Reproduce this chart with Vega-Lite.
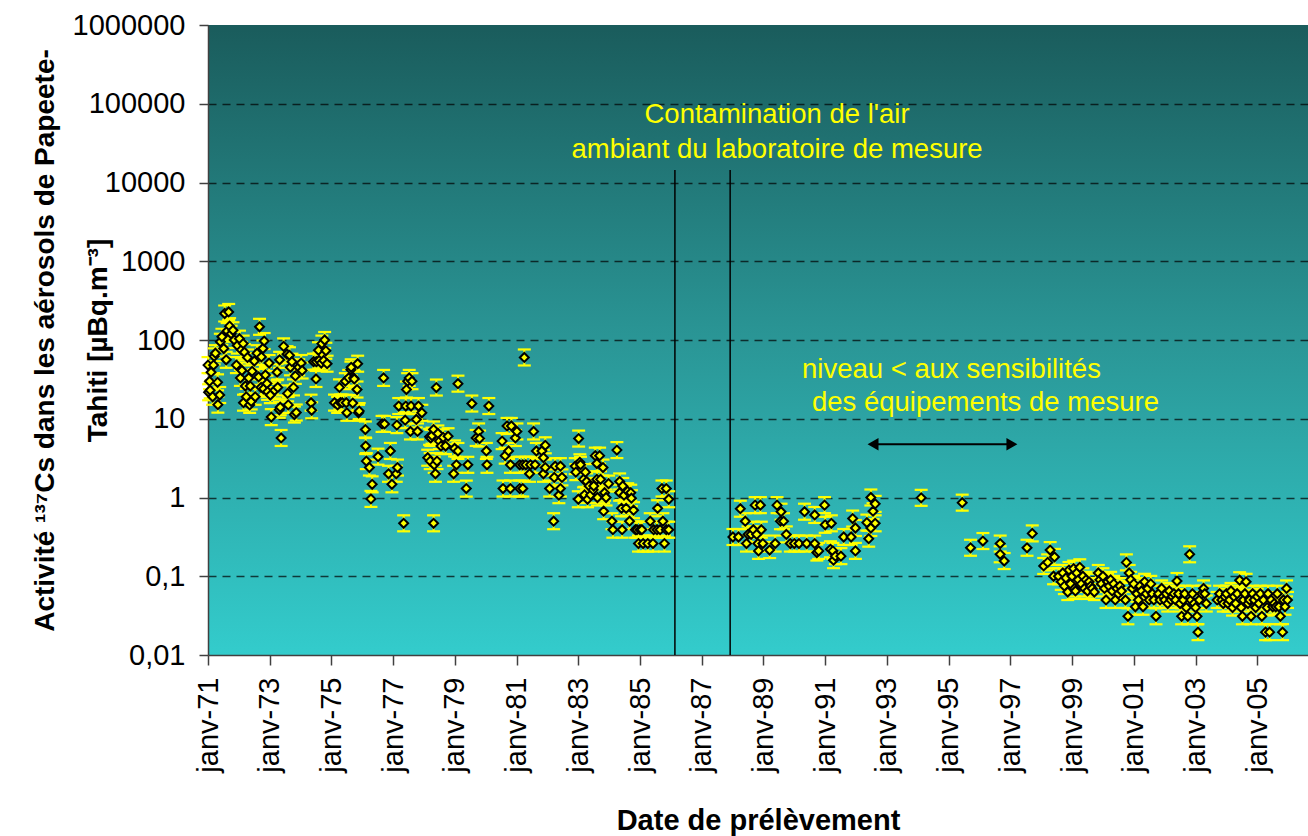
{
  "$schema": "https://vega.github.io/schema/vega-lite/v6.json",
  "width": 1100,
  "height": 630,
  "autosize": "none",
  "padding": {"left": 208, "top": 25, "right": 0, "bottom": 181},
  "background": "white",
  "config": {
    "font": "Liberation Sans",
    "view": {
      "stroke": null,
      "fill": {"gradient": "linear", "x1": 0, "y1": 0, "x2": 0, "y2": 1,
        "stops": [{"offset": 0, "color": "#1A5C5C"}, {"offset": 0.5, "color": "#2A9696"}, {"offset": 1, "color": "#33CCCC"}]}
    }
  },
  "datasets": {
    "mesures": [
      {"annee":1971.00,"activite":48},{"annee":1971.02,"activite":21.7},{"annee":1971.05,"activite":30},{"annee":1971.07,"activite":23},{"annee":1971.10,"activite":39},{"annee":1971.15,"activite":19},{"annee":1971.18,"activite":48},{"annee":1971.20,"activite":62},{"annee":1971.24,"activite":68},{"annee":1971.31,"activite":29},{"annee":1971.32,"activite":15.1},{"annee":1971.38,"activite":20},{"annee":1971.40,"activite":95},{"annee":1971.45,"activite":110},{"annee":1971.51,"activite":78},{"annee":1971.54,"activite":217},{"annee":1971.59,"activite":56},{"annee":1971.62,"activite":130},{"annee":1971.67,"activite":227},{"annee":1971.70,"activite":150},{"annee":1971.75,"activite":120},{"annee":1971.81,"activite":133},{"annee":1971.85,"activite":100},{"annee":1971.92,"activite":48},{"annee":1971.95,"activite":85},
      {"annee":1972.02,"activite":104},{"annee":1972.05,"activite":33},{"annee":1972.08,"activite":75},{"annee":1972.10,"activite":41},{"annee":1972.14,"activite":90},{"annee":1972.15,"activite":16},{"annee":1972.18,"activite":70},{"annee":1972.21,"activite":26},{"annee":1972.24,"activite":19},{"annee":1972.28,"activite":60},{"annee":1972.32,"activite":33},{"annee":1972.35,"activite":15},{"annee":1972.37,"activite":26},{"annee":1972.40,"activite":16.6},{"annee":1972.43,"activite":40},{"annee":1972.50,"activite":54},{"annee":1972.53,"activite":19},{"annee":1972.59,"activite":68},{"annee":1972.64,"activite":34},{"annee":1972.67,"activite":147},{"annee":1972.72,"activite":25},{"annee":1972.73,"activite":61},{"annee":1972.78,"activite":78},{"annee":1972.80,"activite":24},{"annee":1972.82,"activite":97},{"annee":1972.86,"activite":36},{"annee":1972.91,"activite":28},{"annee":1972.93,"activite":22},{"annee":1972.98,"activite":51},
      {"annee":1973.02,"activite":20},{"annee":1973.05,"activite":10.5},{"annee":1973.16,"activite":23},{"annee":1973.24,"activite":39},{"annee":1973.26,"activite":25},{"annee":1973.31,"activite":13},{"annee":1973.32,"activite":56},{"annee":1973.34,"activite":14},{"annee":1973.37,"activite":5.7},{"annee":1973.45,"activite":83},{"annee":1973.56,"activite":66},{"annee":1973.58,"activite":21},{"annee":1973.60,"activite":15},{"annee":1973.64,"activite":64},{"annee":1973.67,"activite":45},{"annee":1973.72,"activite":53},{"annee":1973.77,"activite":25},{"annee":1973.80,"activite":11.3},{"annee":1973.83,"activite":35},{"annee":1973.86,"activite":12},{"annee":1973.94,"activite":45},
      {"annee":1974.02,"activite":51},{"annee":1974.05,"activite":41},{"annee":1974.34,"activite":16},{"annee":1974.36,"activite":12.8},{"annee":1974.42,"activite":53},{"annee":1974.50,"activite":32},{"annee":1974.51,"activite":53},{"annee":1974.58,"activite":74},{"annee":1974.60,"activite":55},{"annee":1974.67,"activite":51},{"annee":1974.69,"activite":90},{"annee":1974.75,"activite":55},{"annee":1974.78,"activite":100},{"annee":1974.82,"activite":73},{"annee":1974.86,"activite":50},
      {"annee":1975.10,"activite":16},{"annee":1975.20,"activite":15},{"annee":1975.26,"activite":25},{"annee":1975.29,"activite":16},{"annee":1975.35,"activite":16},{"annee":1975.45,"activite":30},{"annee":1975.48,"activite":16},{"annee":1975.50,"activite":11.9},{"annee":1975.56,"activite":33},{"annee":1975.63,"activite":42},{"annee":1975.64,"activite":45},{"annee":1975.69,"activite":15.8},{"annee":1975.72,"activite":33},{"annee":1975.74,"activite":32},{"annee":1975.83,"activite":23.5},{"annee":1975.85,"activite":50},{"annee":1975.88,"activite":11.9},{"annee":1975.90,"activite":12.5},
      {"annee":1976.10,"activite":7.3},{"annee":1976.11,"activite":4.5},{"annee":1976.13,"activite":2.9},{"annee":1976.23,"activite":2.4},{"annee":1976.28,"activite":0.96},{"annee":1976.32,"activite":1.47},{"annee":1976.51,"activite":3.3},{"annee":1976.64,"activite":8.6},{"annee":1976.69,"activite":33},{"annee":1976.72,"activite":8.6},{"annee":1976.85,"activite":2.0},{"annee":1976.91,"activite":3.9},{"annee":1976.96,"activite":1.47},
      {"annee":1977.10,"activite":2.0},{"annee":1977.12,"activite":8.3},{"annee":1977.14,"activite":2.4},{"annee":1977.18,"activite":14.5},{"annee":1977.34,"activite":0.47},{"annee":1977.39,"activite":9.6},{"annee":1977.41,"activite":14.5},{"annee":1977.43,"activite":23.5},{"annee":1977.47,"activite":30},{"annee":1977.52,"activite":33},{"annee":1977.56,"activite":6.9},{"annee":1977.58,"activite":14.5},{"annee":1977.61,"activite":30},{"annee":1977.75,"activite":9.8},{"annee":1977.79,"activite":6.9},{"annee":1977.82,"activite":14.5},{"annee":1977.93,"activite":11.9},
      {"annee":1978.12,"activite":3.2},{"annee":1978.18,"activite":5.9},{"annee":1978.20,"activite":2.9},{"annee":1978.22,"activite":5.7},{"annee":1978.26,"activite":6.1},{"annee":1978.31,"activite":7.3},{"annee":1978.31,"activite":0.47},{"annee":1978.33,"activite":2.6},{"annee":1978.37,"activite":2.0},{"annee":1978.40,"activite":24.9},{"annee":1978.42,"activite":2.9},{"annee":1978.45,"activite":6.5},{"annee":1978.50,"activite":5.2},{"annee":1978.55,"activite":4.5},{"annee":1978.62,"activite":5.8},{"annee":1978.70,"activite":4.5},{"annee":1978.78,"activite":6.0},{"annee":1978.96,"activite":2.0},{"annee":1978.99,"activite":4.2},
      {"annee":1979.05,"activite":2.6},{"annee":1979.10,"activite":3.9},{"annee":1979.10,"activite":27.9},{"annee":1979.37,"activite":1.3},{"annee":1979.42,"activite":2.6},{"annee":1979.55,"activite":15.6},{"annee":1979.69,"activite":5.7},{"annee":1979.77,"activite":6.9},{"annee":1979.80,"activite":5.6},
      {"annee":1980.02,"activite":3.9},{"annee":1980.04,"activite":2.6},{"annee":1980.10,"activite":14.5},{"annee":1980.53,"activite":5.2},{"annee":1980.56,"activite":1.3},{"annee":1980.63,"activite":3.4},{"annee":1980.69,"activite":8.1},{"annee":1980.74,"activite":3.9},{"annee":1980.80,"activite":2.6},{"annee":1980.80,"activite":1.3},{"annee":1980.83,"activite":8.1},{"annee":1980.96,"activite":5.7},
      {"annee":1981.01,"activite":6.9},{"annee":1981.10,"activite":1.3},{"annee":1981.10,"activite":2.6},{"annee":1981.20,"activite":1.3},{"annee":1981.20,"activite":2.6},{"annee":1981.25,"activite":60},{"annee":1981.30,"activite":2.6},{"annee":1981.42,"activite":2.0},{"annee":1981.45,"activite":2.6},{"annee":1981.55,"activite":6.9},{"annee":1981.60,"activite":2.6},{"annee":1981.64,"activite":3.9},{"annee":1981.82,"activite":3.9},{"annee":1981.87,"activite":3.2},{"annee":1981.87,"activite":2.0},{"annee":1981.93,"activite":4.6},{"annee":1981.93,"activite":2.4},
      {"annee":1982.07,"activite":1.3},{"annee":1982.20,"activite":0.5},{"annee":1982.22,"activite":1.8},{"annee":1982.25,"activite":2.5},{"annee":1982.37,"activite":1.07},{"annee":1982.42,"activite":2.5},{"annee":1982.42,"activite":1.3},{"annee":1982.47,"activite":1.8},{"annee":1982.90,"activite":2.5},{"annee":1982.92,"activite":2.1},
      {"annee":1983.00,"activite":0.95},{"annee":1983.01,"activite":5.6},{"annee":1983.05,"activite":2.8},{"annee":1983.07,"activite":2.6},{"annee":1983.17,"activite":1.7},{"annee":1983.20,"activite":1.08},{"annee":1983.23,"activite":2.1},{"annee":1983.27,"activite":1.6},{"annee":1983.30,"activite":0.95},{"annee":1983.35,"activite":1.4},{"annee":1983.40,"activite":1.08},{"annee":1983.48,"activite":1.25},{"annee":1983.50,"activite":1.4},{"annee":1983.55,"activite":3.4},{"annee":1983.60,"activite":2.7},{"annee":1983.60,"activite":1.7},{"annee":1983.62,"activite":1.0},{"annee":1983.69,"activite":3.4},{"annee":1983.72,"activite":1.7},{"annee":1983.80,"activite":2.4},{"annee":1983.82,"activite":0.67},{"annee":1983.85,"activite":1.15},{"annee":1983.90,"activite":1.0},{"annee":1983.98,"activite":1.5},
      {"annee":1984.09,"activite":0.5},{"annee":1984.12,"activite":0.39},{"annee":1984.25,"activite":4.0},{"annee":1984.34,"activite":1.6},{"annee":1984.34,"activite":1.15},{"annee":1984.40,"activite":0.73},{"annee":1984.42,"activite":0.39},{"annee":1984.44,"activite":1.4},{"annee":1984.48,"activite":1.07},{"annee":1984.55,"activite":0.73},{"annee":1984.60,"activite":1.2},{"annee":1984.66,"activite":0.5},{"annee":1984.70,"activite":1.15},{"annee":1984.72,"activite":0.98},{"annee":1984.79,"activite":0.69},{"annee":1984.85,"activite":0.39},{"annee":1984.90,"activite":0.39},{"annee":1984.95,"activite":0.26},
      {"annee":1985.00,"activite":0.39},{"annee":1985.06,"activite":0.39},{"annee":1985.10,"activite":0.26},{"annee":1985.25,"activite":0.26},{"annee":1985.33,"activite":0.5},{"annee":1985.42,"activite":0.26},{"annee":1985.44,"activite":0.39},{"annee":1985.55,"activite":0.39},{"annee":1985.57,"activite":0.73},{"annee":1985.65,"activite":0.39},{"annee":1985.71,"activite":1.3},{"annee":1985.74,"activite":0.5},{"annee":1985.79,"activite":0.26},{"annee":1985.85,"activite":1.3},{"annee":1985.85,"activite":0.39},{"annee":1985.93,"activite":0.39},{"annee":1985.93,"activite":0.95},
      {"annee":1988.01,"activite":0.315},{"annee":1988.19,"activite":0.315},{"annee":1988.25,"activite":0.72},{"annee":1988.41,"activite":0.5},{"annee":1988.45,"activite":0.26},{"annee":1988.50,"activite":0.34},{"annee":1988.60,"activite":0.34},{"annee":1988.67,"activite":0.39},{"annee":1988.73,"activite":0.8},{"annee":1988.78,"activite":0.34},{"annee":1988.82,"activite":0.26},{"annee":1988.84,"activite":0.21},{"annee":1988.90,"activite":0.8},{"annee":1988.93,"activite":0.39},{"annee":1988.98,"activite":0.26},
      {"annee":1989.20,"activite":0.215},{"annee":1989.38,"activite":0.26},{"annee":1989.44,"activite":0.8},{"annee":1989.55,"activite":0.5},{"annee":1989.57,"activite":0.66},{"annee":1989.65,"activite":0.5},{"annee":1989.74,"activite":0.34},{"annee":1989.87,"activite":0.26},
      {"annee":1990.00,"activite":0.26},{"annee":1990.15,"activite":0.26},{"annee":1990.33,"activite":0.66},{"annee":1990.40,"activite":0.26},{"annee":1990.66,"activite":0.6},{"annee":1990.66,"activite":0.26},{"annee":1990.73,"activite":0.2},{"annee":1990.79,"activite":0.21},{"annee":1990.98,"activite":0.8},
      {"annee":1991.00,"activite":0.45},{"annee":1991.17,"activite":0.22},{"annee":1991.20,"activite":0.47},{"annee":1991.25,"activite":0.21},{"annee":1991.27,"activite":0.16},{"annee":1991.33,"activite":0.18},{"annee":1991.51,"activite":0.18},{"annee":1991.60,"activite":0.315},{"annee":1991.84,"activite":0.315},{"annee":1991.89,"activite":0.54},{"annee":1991.98,"activite":0.41},{"annee":1991.98,"activite":0.21},
      {"annee":1992.35,"activite":0.48},{"annee":1992.41,"activite":0.30},{"annee":1992.48,"activite":0.41},{"annee":1992.48,"activite":1.0},{"annee":1992.55,"activite":0.67},{"annee":1992.62,"activite":0.83},{"annee":1992.62,"activite":0.47},
      {"annee":1994.11,"activite":0.99},{"annee":1995.44,"activite":0.86},{"annee":1995.71,"activite":0.23},{"annee":1996.11,"activite":0.28},{"annee":1996.67,"activite":0.26},{"annee":1996.67,"activite":0.19},{"annee":1996.80,"activite":0.156},{"annee":1997.54,"activite":0.23},{"annee":1997.71,"activite":0.35},
      {"annee":1998.08,"activite":0.135},{"annee":1998.21,"activite":0.15},{"annee":1998.29,"activite":0.215},{"annee":1998.40,"activite":0.1},{"annee":1998.43,"activite":0.176},{"annee":1998.56,"activite":0.1},{"annee":1998.65,"activite":0.085},{"annee":1998.70,"activite":0.11},{"annee":1998.75,"activite":0.075},{"annee":1998.80,"activite":0.095},{"annee":1998.86,"activite":0.063},{"annee":1998.90,"activite":0.12},{"annee":1998.95,"activite":0.08},
      {"annee":1999.00,"activite":0.1},{"annee":1999.05,"activite":0.125},{"annee":1999.08,"activite":0.07},{"annee":1999.11,"activite":0.065},{"annee":1999.15,"activite":0.11},{"annee":1999.20,"activite":0.09},{"annee":1999.25,"activite":0.13},{"annee":1999.30,"activite":0.08},{"annee":1999.35,"activite":0.1},{"annee":1999.40,"activite":0.07},{"annee":1999.45,"activite":0.09},{"annee":1999.50,"activite":0.065},{"annee":1999.55,"activite":0.085},{"annee":1999.60,"activite":0.075},{"annee":1999.65,"activite":0.07},{"annee":1999.72,"activite":0.063},{"annee":1999.85,"activite":0.11},{"annee":1999.90,"activite":0.09},{"annee":1999.95,"activite":0.08},
      {"annee":2000.00,"activite":0.1},{"annee":2000.05,"activite":0.07},{"annee":2000.10,"activite":0.05},{"annee":2000.15,"activite":0.085},{"annee":2000.20,"activite":0.075},{"annee":2000.25,"activite":0.09},{"annee":2000.30,"activite":0.065},{"annee":2000.35,"activite":0.08},{"annee":2000.40,"activite":0.05},{"annee":2000.45,"activite":0.07},{"annee":2000.50,"activite":0.06},{"annee":2000.55,"activite":0.075},{"annee":2000.60,"activite":0.065},{"annee":2000.73,"activite":0.05},{"annee":2000.76,"activite":0.15},{"annee":2000.81,"activite":0.031},{"annee":2000.85,"activite":0.11},{"annee":2000.90,"activite":0.09},{"annee":2000.95,"activite":0.07},
      {"annee":2001.00,"activite":0.08},{"annee":2001.05,"activite":0.041},{"annee":2001.10,"activite":0.06},{"annee":2001.15,"activite":0.05},{"annee":2001.20,"activite":0.075},{"annee":2001.25,"activite":0.065},{"annee":2001.30,"activite":0.041},{"annee":2001.35,"activite":0.085},{"annee":2001.40,"activite":0.06},{"annee":2001.45,"activite":0.07},{"annee":2001.50,"activite":0.05},{"annee":2001.55,"activite":0.08},{"annee":2001.60,"activite":0.06},{"annee":2001.65,"activite":0.05},{"annee":2001.72,"activite":0.031},{"annee":2001.80,"activite":0.06},{"annee":2001.85,"activite":0.05},{"annee":2001.90,"activite":0.07},{"annee":2001.95,"activite":0.055},
      {"annee":2002.00,"activite":0.05},{"annee":2002.05,"activite":0.06},{"annee":2002.10,"activite":0.045},{"annee":2002.15,"activite":0.065},{"annee":2002.20,"activite":0.05},{"annee":2002.25,"activite":0.055},{"annee":2002.30,"activite":0.06},{"annee":2002.35,"activite":0.05},{"annee":2002.40,"activite":0.087},{"annee":2002.45,"activite":0.06},{"annee":2002.50,"activite":0.045},{"annee":2002.55,"activite":0.031},{"annee":2002.60,"activite":0.05},{"annee":2002.65,"activite":0.06},{"annee":2002.70,"activite":0.04},{"annee":2002.75,"activite":0.031},{"annee":2002.81,"activite":0.19},{"annee":2002.85,"activite":0.05},{"annee":2002.90,"activite":0.06},{"annee":2002.95,"activite":0.045},
      {"annee":2003.00,"activite":0.04},{"annee":2003.05,"activite":0.031},{"annee":2003.08,"activite":0.0195},{"annee":2003.12,"activite":0.05},{"annee":2003.20,"activite":0.06},{"annee":2003.26,"activite":0.07},{"annee":2003.30,"activite":0.06},{"annee":2003.35,"activite":0.045},{"annee":2003.70,"activite":0.05},{"annee":2003.78,"activite":0.06},{"annee":2003.85,"activite":0.05},{"annee":2003.90,"activite":0.045},{"annee":2003.95,"activite":0.055},
      {"annee":2004.00,"activite":0.06},{"annee":2004.05,"activite":0.045},{"annee":2004.10,"activite":0.05},{"annee":2004.15,"activite":0.065},{"annee":2004.20,"activite":0.04},{"annee":2004.25,"activite":0.055},{"annee":2004.30,"activite":0.045},{"annee":2004.35,"activite":0.06},{"annee":2004.43,"activite":0.089},{"annee":2004.48,"activite":0.04},{"annee":2004.52,"activite":0.031},{"annee":2004.55,"activite":0.05},{"annee":2004.60,"activite":0.06},{"annee":2004.64,"activite":0.085},{"annee":2004.70,"activite":0.045},{"annee":2004.75,"activite":0.05},{"annee":2004.80,"activite":0.031},{"annee":2004.85,"activite":0.06},{"annee":2004.90,"activite":0.05},{"annee":2004.95,"activite":0.04},
      {"annee":2005.00,"activite":0.055},{"annee":2005.05,"activite":0.045},{"annee":2005.10,"activite":0.06},{"annee":2005.15,"activite":0.031},{"annee":2005.20,"activite":0.05},{"annee":2005.27,"activite":0.0195},{"annee":2005.32,"activite":0.04},{"annee":2005.35,"activite":0.06},{"annee":2005.40,"activite":0.0195},{"annee":2005.45,"activite":0.05},{"annee":2005.50,"activite":0.041},{"annee":2005.55,"activite":0.045},{"annee":2005.60,"activite":0.041},{"annee":2005.65,"activite":0.06},{"annee":2005.70,"activite":0.041},{"annee":2005.75,"activite":0.031},{"annee":2005.82,"activite":0.0195},{"annee":2005.85,"activite":0.05},{"annee":2005.90,"activite":0.041},{"annee":2005.95,"activite":0.07},{"annee":2005.98,"activite":0.05}
    ],
    "lignes": [
      {"annee": 1986.13, "activite": 14400, "activite_bas": 0.01},
      {"annee": 1987.92, "activite": 14400, "activite_bas": 0.01}
    ],
    "textes_centres": [
      {"annee": 1989.44, "activite": 71800, "texte": "Contamination de l'air"},
      {"annee": 1989.44, "activite": 25800, "texte": "ambiant du laboratoire de mesure"}
    ],
    "textes_gauche": [
      {"annee": 1990.25, "activite": 41.3, "texte": "niveau < aux sensibilités"},
      {"annee": 1990.57, "activite": 15.7, "texte": "des équipements de mesure"}
    ],
    "fleche": [
      {"annee": 1992.55, "activite": 4.74, "annee_fin": 1997.05}
    ]
  },
  "encoding": {
    "x": {
      "field": "annee", "type": "quantitative",
      "scale": {"domain": [1971, 2006.645], "nice": false, "zero": false},
      "axis": {
        "values": [1971,1973,1975,1977,1979,1981,1983,1985,1987,1989,1991,1993,1995,1997,1999,2001,2003,2005],
        "labelExpr": "'janv-' + slice(toString(datum.value), 2)",
        "labelAngle": -90, "labelAlign": "right", "labelBaseline": "middle",
        "labelFontSize": 29, "labelColor": "#000000", "labelPadding": 12,
        "tickSize": 10, "tickColor": "#404040", "domainColor": "#404040", "domainWidth": 1.5, "tickWidth": 1.5,
        "grid": false, "labelOverlap": false, "labelFlush": false,
        "title": "Date de prélèvement", "titleFontSize": 29, "titleFontWeight": "bold", "titleColor": "#000000",
        "titleY": 165, "titleBaseline": "middle"
      }
    },
    "y": {
      "field": "activite", "type": "quantitative",
      "scale": {"type": "log", "domain": [0.01, 1000000], "nice": false},
      "axis": {
        "values": [0.01, 0.1, 1, 10, 100, 1000, 10000, 100000, 1000000],
        "labelExpr": "replace(toString(datum.value), '.', ',')",
        "labelFontSize": 29, "labelColor": "#000000", "labelPadding": 14,
        "tickSize": 9, "tickColor": "#404040", "domainColor": "#404040", "domainWidth": 1.5, "tickWidth": 1.5,
        "labelOverlap": false, "labelFlush": false,
        "grid": true, "gridColor": "#000000", "gridDash": [8, 6], "gridWidth": 1.5,
        "gridOpacity": {"condition": {"test": "datum.value >= 1000000 || datum.value <= 0.01", "value": 0}, "value": 0.7},
        "title": ["Activité ¹³⁷Cs dans les aérosols de Papeete-", "Tahiti [µBq.m⁻³]"],
        "titleFontSize": 28, "titleFontWeight": "bold", "titleColor": "#000000",
        "titleAngle": -90, "titleAlign": "center", "titleBaseline": "middle", "titleLineHeight": 53,
        "titleX": -163, "titleY": 315
      }
    }
  },
  "layer": [
    {
      "data": {"name": "lignes"},
      "mark": {"type": "rule", "color": "#000000", "strokeWidth": 1.5},
      "encoding": {"y2": {"field": "activite_bas"}}
    },
    {
      "data": {"name": "mesures"},
      "mark": {"type": "tick", "orient": "vertical", "size": 17, "thickness": 2, "color": "#FFFF00", "opacity": 1},
      "encoding": {}
    },
    {
      "data": {"name": "mesures"},
      "mark": {"type": "tick", "orient": "horizontal", "size": 13, "thickness": 2.2, "color": "#FFFF00", "opacity": 1, "yOffset": -8},
      "encoding": {}
    },
    {
      "data": {"name": "mesures"},
      "mark": {"type": "tick", "orient": "horizontal", "size": 13, "thickness": 2.2, "color": "#FFFF00", "opacity": 1, "yOffset": 8},
      "encoding": {}
    },
    {
      "data": {"name": "mesures"},
      "mark": {"type": "point", "shape": "diamond", "filled": true, "fill": "#FFFF00", "stroke": "#000000", "strokeWidth": 2, "size": 80, "opacity": 1},
      "encoding": {}
    },
    {
      "data": {"name": "textes_centres"},
      "mark": {"type": "text", "color": "#FFFF00", "fontSize": 27.5, "align": "center", "baseline": "middle"},
      "encoding": {"text": {"field": "texte"}}
    },
    {
      "data": {"name": "textes_gauche"},
      "mark": {"type": "text", "color": "#FFFF00", "fontSize": 27.5, "align": "left", "baseline": "middle"},
      "encoding": {"text": {"field": "texte"}}
    },
    {
      "data": {"name": "fleche"},
      "mark": {"type": "rule", "color": "#000000", "strokeWidth": 2},
      "encoding": {"x2": {"field": "annee_fin"}}
    },
    {
      "data": {"name": "fleche"},
      "mark": {"type": "point", "shape": "triangle-left", "filled": true, "color": "#000000", "size": 160, "opacity": 1},
      "encoding": {}
    },
    {
      "data": {"name": "fleche"},
      "mark": {"type": "point", "shape": "triangle-right", "filled": true, "color": "#000000", "size": 160, "opacity": 1},
      "encoding": {"x": {"field": "annee_fin", "type": "quantitative"}}
    }
  ]
}
